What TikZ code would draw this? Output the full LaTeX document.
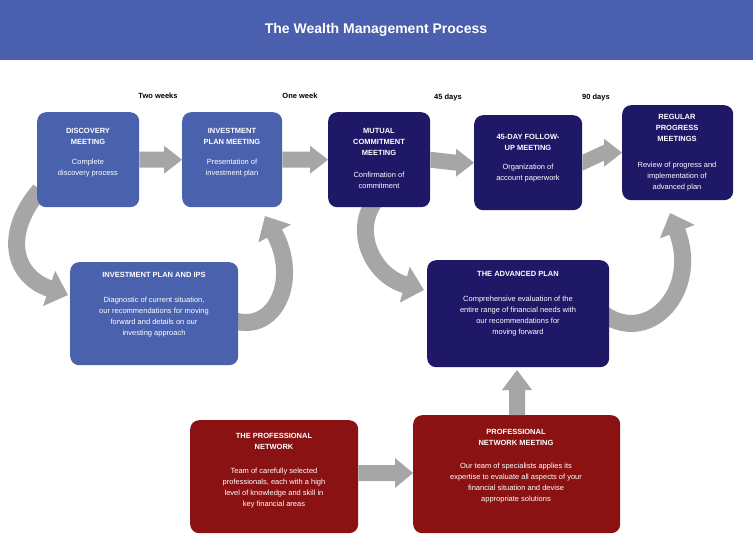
\documentclass[tikz,border=0pt]{standalone}
\usepackage{fontspec}
\setmainfont{Liberation Sans}
\usetikzlibrary{arrows.meta}
\definecolor{lb}{HTML}{4A62AE}
\definecolor{nv}{HTML}{1E1866}
\definecolor{dr}{HTML}{8B1212}
\definecolor{ar}{HTML}{A6A6A6}
\definecolor{tb}{HTML}{4A5FAE}
\begin{document}
\begin{tikzpicture}[x=1pt,y=-1pt,
 box/.style={rounded corners=9pt,draw=none,text=white,align=center,font=\fontsize{7.5}{11}\selectfont,inner sep=3pt},
 hd/.style={font=\fontsize{7.5}{11}\selectfont\bfseries},
 sarr/.style={draw=none,fill=ar},
 carr/.style={draw=ar,line width=17pt,-{Triangle[width=36pt,length=20pt]}},
 tl/.style={font=\fontsize{7.5}{9}\selectfont\bfseries}]
\useasboundingbox (0,0) rectangle (753,552);
\fill[white] (0,0) rectangle (753,552);
\fill[tb] (0,0) rectangle (753,60);
\node[text=white,font=\fontsize{14}{16}\selectfont\bfseries] (title) at (376,30) {The Wealth Management Process};
\node[tl] (t1) at (158,96) {Two weeks};
\node[tl] (t2) at (300,96) {One week};
\node[tl] (t3) at (448,98) {45 days};
\node[tl] (t4) at (596,98) {90 days};
% curved arrows
\coordinate (c1s) at (40,190); \coordinate (c1e) at (68,295);
\draw[carr] (c1s) .. controls (5,230) and (10,275) .. (c1e);
\coordinate (c2s) at (232,320); \coordinate (c2e) at (265,216);
\draw[carr] (c2s) .. controls (275,335) and (300,280) .. (c2e);
\coordinate (c3s) at (380,195); \coordinate (c3e) at (424,290);
\draw[carr] (c3s) .. controls (350,225) and (370,275) .. (c3e);
\coordinate (c4s) at (605,315); \coordinate (c4e) at (670,213);
\draw[carr] (c4s) .. controls (650,345) and (700,290) .. (c4e);
% boxes
\node[box,fill=lb,minimum width=102pt,minimum height=95pt,anchor=north west] (b1) at (37,112) {};
\node[box,fill=lb,minimum width=100pt,minimum height=95pt,anchor=north west] (b2) at (182,112) {};
\node[box,fill=nv,minimum width=102pt,minimum height=95pt,anchor=north west] (b3) at (328,112) {};
\node[box,fill=nv,minimum width=108pt,minimum height=95pt,anchor=north west] (b4) at (474,115) {};
\node[box,fill=nv,minimum width=111pt,minimum height=95pt,anchor=north west] (b5) at (622,105) {};
\node[box,fill=lb,minimum width=168pt,minimum height=103pt,anchor=north west] (b6) at (70,262) {};
\node[box,fill=nv,minimum width=182pt,minimum height=107pt,anchor=north west] (b7) at (427,260) {};
\node[box,fill=dr,minimum width=168pt,minimum height=113pt,anchor=north west] (b8) at (190,420) {};
\node[box,fill=dr,minimum width=207pt,minimum height=118pt,anchor=north west] (b9) at (413,415) {};
% straight arrows
\foreach \a/\b in {b1/b2,b2/b3,b3/b4,b4/b5}{
 \fill[ar] ([yshift=-8pt]\a.east) -- ([xshift=-18pt,yshift=-8pt]\b.west) -- ([xshift=-18pt,yshift=-14pt]\b.west) -- (\b.west) -- ([xshift=-18pt,yshift=14pt]\b.west) -- ([xshift=-18pt,yshift=8pt]\b.west) -- ([yshift=8pt]\a.east) -- cycle;}
\fill[ar] ([yshift=-8pt]b8.east|-0,473) -- ([xshift=-18pt,yshift=-8pt]b9.west|-0,473) -- ([xshift=-18pt,yshift=-15pt]b9.west|-0,473) -- (b9.west|-0,473) -- ([xshift=-18pt,yshift=15pt]b9.west|-0,473) -- ([xshift=-18pt,yshift=8pt]b9.west|-0,473) -- ([yshift=8pt]b8.east|-0,473) -- cycle;
\fill[ar] (509,415) -- (509,390) -- (502,390) -- (517,370) -- (532,390) -- (525,390) -- (525,415) -- cycle;
% texts
\node[box,hd] (h1) at (88,136) {DISCOVERY\\MEETING};
\node[box] (x1) at (88,168) {Complete\\discovery process};
\node[box,hd] (h2) at (232,136) {INVESTMENT\\PLAN MEETING};
\node[box] (x2) at (232,168) {Presentation of\\investment plan};
\node[box,hd] (h3) at (379,142) {MUTUAL\\COMMITMENT\\MEETING};
\node[box] (x3) at (379,180) {Confirmation of\\commitment};
\node[box,hd] (h4) at (528,142) {45-DAY FOLLOW-\\UP MEETING};
\node[box] (x4) at (528,173) {Organization of\\account paperwork};
\node[box,hd] (h5) at (677,128) {REGULAR\\PROGRESS\\MEETINGS};
\node[box] (x5) at (677,177) {Review of progress and\\implementation of\\advanced plan};
\node[box,hd] (h6) at (154,275) {INVESTMENT PLAN AND IPS};
\node[box] (x6) at (154,317) {Diagnostic of current situation,\\our recommendations for moving\\forward and details on our\\investing approach};
\node[box,hd] (h7) at (518,274) {THE ADVANCED PLAN};
\node[box] (x7) at (518,316) {Comprehensive evaluation of the\\entire range of financial needs with\\our recommendations for\\moving forward};
\node[box,hd] (h8) at (274,441) {THE PROFESSIONAL\\NETWORK};
\node[box] (x8) at (274,488) {Team of carefully selected\\professionals, each with a high\\level of knowledge and skill in\\key financial areas};
\node[box,hd] (h9) at (516,437) {PROFESSIONAL\\NETWORK MEETING};
\node[box] (x9) at (516,483) {Our team of specialists applies its\\expertise to evaluate all aspects of your\\financial situation and devise\\appropriate solutions};
\end{tikzpicture}
\end{document}
